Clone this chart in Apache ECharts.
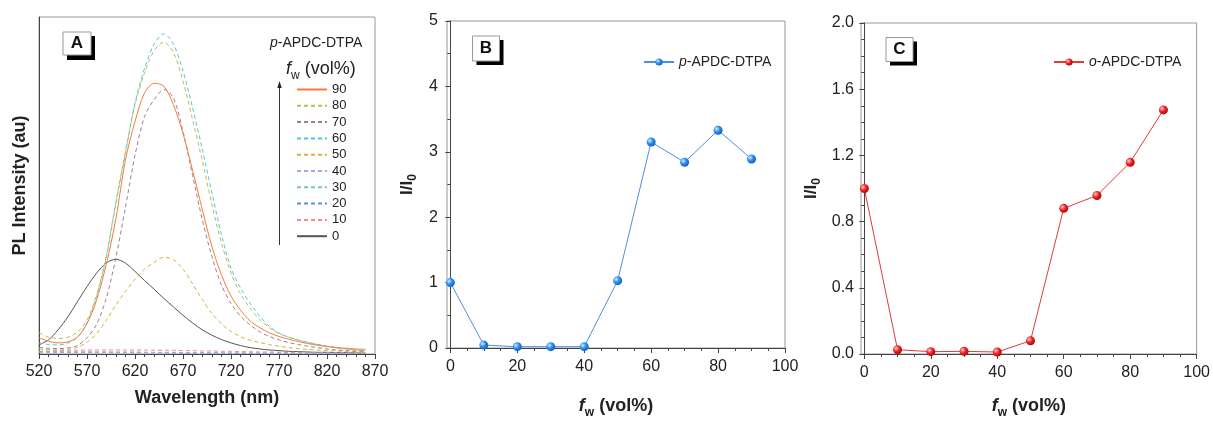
<!DOCTYPE html>
<html><head><meta charset="utf-8">
<script src="https://cdn.jsdelivr.net/npm/echarts@6/dist/echarts.min.js"></script>
<style>html,body{margin:0;padding:0;background:#fff}#c{width:1213px;height:424px}</style>
</head><body><div id="c"></div>
<script>
// ---------- Panel A: PL spectra ----------
const wavelengths = [520,530,540,550,560,570,580,590,600,610,620,630,640,650,660,670,680,690,700,710,720,730,740,750,760,770,780,790,800,810,820,830,840,850,860];
const pl90 = [48,38,33,36,50,90,160,265,400,575,690,775,803,795,740,655,545,430,320,235,172,130,98,78,63,52,44,37,31,26,22,19,17,15,14];
const pl80 = [63,50,46,50,65,100,175,290,450,600,740,835,900,925,895,810,695,575,445,330,240,178,135,102,78,61,50,41,34,28,23,18,15,12,10];
const pl70 = [20,17,16,18,25,48,88,165,285,435,590,705,755,785,760,660,530,400,290,205,150,112,86,66,52,42,34,28,23,19,15,12,10,9,8];
const pl60 = [33,28,27,32,50,92,170,285,445,595,745,848,920,950,920,840,730,610,480,355,255,195,150,112,82,62,50,42,35,29,23,19,15,12,10];
const pl50 = [15,13,12,14,20,35,60,100,145,185,222,252,272,287,280,252,208,162,120,90,67,51,41,34,28,23,19,16,14,12,10,9,8,7,6];
const pl40 = [5,5,6,6,6,6,6,6,6,6,6,5,5,5,5,4,4,4,4,3,3,3,3,3,2,2,2,2,2,2,2,2,2,2,2];
const pl30 = [8,7,7,6,6,6,6,5,5,5,5,5,4,4,4,4,4,3,3,3,3,3,3,2,2,2,2,2,2,2,2,2,2,2,2];
const pl20 = [6,6,5,5,5,5,5,5,4,4,4,4,4,4,3,3,3,3,3,3,2,2,2,2,2,2,2,2,2,2,2,2,1,1,1];
const pl10 = [8,9,10,11,11,12,12,12,12,12,12,12,11,11,11,10,10,9,9,8,8,7,7,6,6,5,5,5,4,4,4,3,3,3,3];
const pl0  = [27,42,72,110,155,200,240,270,281,270,245,218,192,165,140,115,92,72,56,43,33,25,19,15,12,10,8,7,6,5,5,4,4,3,3];
const seriesNamesA = ['90','80','70','60','50','40','30','20','10','0'];
const wavelengthTicks = [520,570,620,670,720,770,820,870];
const wavelengthMinor = [530,540,550,560,580,590,600,610,630,640,650,660,680,690,700,710,730,740,750,760,780,790,800,810,830,840,850,860];

// ---------- Panels B and C ----------
const fw = [0,10,20,30,40,50,60,70,80,90];
const ratioP = [1.00,0.045,0.02,0.02,0.02,1.03,3.15,2.84,3.33,2.89];
const ratioO = [1.00,0.026,0.014,0.016,0.012,0.08,0.88,0.958,1.158,1.475];
const fwTicks = [0,20,40,60,80,100];
const fwMinor = [5,10,15,25,30,35,45,50,55,65,70,75,85,90,95];

const FONT = 'Liberation Sans, Arial, sans-serif';
const pairs = (xs, ys) => xs.map((x, i) => [x, ys[i]]);

const curvesA = [
  {name:'90', data:pl90, color:'#f47c3c', type:'solid'},
  {name:'80', data:pl80, color:'#bcbc55', type:[4,3]},
  {name:'70', data:pl70, color:'#9c7f95', type:[4,3]},
  {name:'60', data:pl60, color:'#4cc9d9', type:[4,3]},
  {name:'50', data:pl50, color:'#d8b040', type:[4,3]},
  {name:'40', data:pl40, color:'#b6a0e4', type:[4,3]},
  {name:'30', data:pl30, color:'#7cc7aa', type:[4,3]},
  {name:'20', data:pl20, color:'#5d8fdb', type:[4,3]},
  {name:'10', data:pl10, color:'#f08c8c', type:[4,3]},
  {name:'0',  data:pl0,  color:'#555555', type:'solid'}
];

const blueBall = {type:'radial', x:0.35, y:0.35, r:0.75, colorStops:[{offset:0,color:'#d8ecff'},{offset:0.45,color:'#2b8ef0'},{offset:1,color:'#0b56b8'}]};
const redBall = {type:'radial', x:0.35, y:0.35, r:0.75, colorStops:[{offset:0,color:'#ffd6d6'},{offset:0.45,color:'#f02424'},{offset:1,color:'#a30000'}]};

const labelStyle = {fontSize:16, color:'#222', fontFamily:FONT};
const nameRichFw = {
  i:{fontSize:18, fontWeight:'bold', fontStyle:'italic', fontFamily:FONT, color:'#222', lineHeight:26},
  s:{fontSize:12, fontWeight:'bold', fontFamily:FONT, color:'#222', lineHeight:12, verticalAlign:'bottom'},
  b:{fontSize:18, fontWeight:'bold', fontFamily:FONT, color:'#222', lineHeight:26}
};
const nameRichI = {
  b:{fontSize:17, fontWeight:'bold', fontFamily:FONT, color:'#222', lineHeight:24},
  s:{fontSize:12, fontWeight:'bold', fontFamily:FONT, color:'#222', lineHeight:12, verticalAlign:'bottom'}
};

function majorX(grid, min, max, ticks, name, nameGap, rich, margin) {
  return {
    type:'value', gridIndex:grid, min:min, max:max, position:'bottom',
    name:name, nameLocation:'middle', nameGap:nameGap,
    nameTextStyle: rich ? {rich:rich} : {fontSize:18, fontWeight:'bold', color:'#222', fontFamily:FONT},
    axisLine:{show:true, onZero:false, lineStyle:{color:'#444', width:1}},
    axisTick:{show:true, inside:false, length:5, customValues:ticks, lineStyle:{color:'#444'}},
    axisLabel:{show:true, margin:margin, customValues:ticks, ...labelStyle},
    splitLine:{show:false}
  };
}
function minorX(grid, min, max, ticks) {
  return {
    type:'value', gridIndex:grid, min:min, max:max, position:'bottom',
    axisLine:{show:false}, axisLabel:{show:false}, splitLine:{show:false},
    axisTick:{show:true, inside:false, length:3, customValues:ticks, lineStyle:{color:'#444'}}
  };
}

const option = {
  animation:false,
  backgroundColor:'#fff',
  grid:[
    {left:39, top:17, width:336, height:337, show:true, borderColor:'#999', borderWidth:1},
    {left:447, top:21, width:338, height:336, show:true, borderColor:'#999', borderWidth:1},
    {left:861, top:23, width:337, height:334, show:true, borderColor:'#999', borderWidth:1}
  ],
  xAxis:[
    majorX(0, 520, 870, wavelengthTicks, 'Wavelength (nm)', 35, null, 10),
    minorX(0, 520, 870, wavelengthMinor),
    majorX(1, -1, 100, fwTicks, '{i|f}{s|w}{b| (vol%)}', 45, nameRichFw, 11),
    minorX(1, -1, 100, fwMinor),
    majorX(2, -1, 100, fwTicks, '{i|f}{s|w}{b| (vol%)}', 39, nameRichFw, 11),
    minorX(2, -1, 100, fwMinor)
  ],
  yAxis:[
    {type:'value', gridIndex:0, min:0, max:1000,
     name:'PL Intensity (au)', nameLocation:'middle', nameGap:10,
     nameTextStyle:{fontSize:18, fontWeight:'bold', color:'#222', fontFamily:FONT},
     axisLine:{show:true, lineStyle:{color:'#444'}}, axisTick:{show:false}, axisLabel:{show:false}, splitLine:{show:false}},
    {type:'value', gridIndex:1, min:0, max:5, interval:1,
     name:'{b|I/I}{s|0}', nameLocation:'middle', nameGap:28, nameTextStyle:{rich:nameRichI},
     axisLine:{show:true, lineStyle:{color:'#444'}},
     axisTick:{show:true, length:5, lineStyle:{color:'#444'}},
     minorTick:{show:true, splitNumber:2, length:3, lineStyle:{color:'#444'}},
     axisLabel:{margin:9, ...labelStyle}, splitLine:{show:false}},
    {type:'value', gridIndex:2, min:0, max:2, interval:0.4,
     name:'{b|I/I}{s|0}', nameLocation:'middle', nameGap:38, nameTextStyle:{rich:nameRichI},
     axisLine:{show:true, lineStyle:{color:'#444'}},
     axisTick:{show:true, length:5, lineStyle:{color:'#444'}},
     minorTick:{show:true, splitNumber:4, length:3, lineStyle:{color:'#444'}},
     axisLabel:{margin:7, formatter:v => v.toFixed(1), ...labelStyle}, splitLine:{show:false}}
  ],
  legend:[
    {data:seriesNamesA, orient:'vertical', left:296, top:83, padding:0, itemWidth:30, itemHeight:10, itemGap:3.3,
     selectedMode:false, itemStyle:{opacity:0},
     textStyle:{fontSize:13, lineHeight:13, color:'#222', fontFamily:FONT}},
    {data:['p-APDC-DTPA'], left:643, top:55, padding:0, itemWidth:30, itemHeight:9, selectedMode:false,
     formatter:'{i|p}{n|-APDC-DTPA}',
     textStyle:{rich:{i:{fontSize:14, fontStyle:'italic', color:'#222', fontFamily:FONT}, n:{fontSize:14, color:'#222', fontFamily:FONT}}}},
    {data:['o-APDC-DTPA'], left:1053, top:55, padding:0, itemWidth:30, itemHeight:9, selectedMode:false,
     formatter:'{i|o}{n|-APDC-DTPA}',
     textStyle:{rich:{i:{fontSize:14, fontStyle:'italic', color:'#222', fontFamily:FONT}, n:{fontSize:14, color:'#222', fontFamily:FONT}}}}
  ],
  series:[
    ...curvesA.slice().reverse().map(c => ({
      name:c.name, type:'line', xAxisIndex:0, yAxisIndex:0, data:pairs(wavelengths, c.data),
      symbol:'none', smooth:0.3, color:c.color,
      lineStyle:{color:c.color, width:1, type:c.type}, z:3
    })),
    {name:'p-APDC-DTPA', type:'line', xAxisIndex:2, yAxisIndex:1, data:pairs(fw, ratioP),
     symbol:'circle', symbolSize:9, color:'#2b8ef0', lineStyle:{color:'#4c8fdc', width:1},
     itemStyle:{color:blueBall}},
    {name:'o-APDC-DTPA', type:'line', xAxisIndex:4, yAxisIndex:2, data:pairs(fw, ratioO),
     symbol:'circle', symbolSize:9, color:'#f02424', lineStyle:{color:'#e03a3a', width:1},
     itemStyle:{color:redBall}}
  ],
  graphic:[
    // panel label boxes
    {type:'rect', shape:{x:67, y:36, width:28, height:24}, style:{fill:'#000'}, z:10},
    {type:'rect', shape:{x:63, y:32, width:28, height:23}, style:{fill:'#fff', stroke:'#999', lineWidth:1}, z:11},
    {type:'text', x:77, y:43.5, style:{text:'A', font:'bold 17px ' + FONT, fill:'#111', align:'center', verticalAlign:'middle'}, z:12},
    {type:'rect', shape:{x:476.5, y:40, width:27, height:25}, style:{fill:'#000'}, z:10},
    {type:'rect', shape:{x:472.5, y:36, width:27, height:25}, style:{fill:'#fff', stroke:'#999', lineWidth:1}, z:11},
    {type:'text', x:486, y:48.5, style:{text:'B', font:'bold 17px ' + FONT, fill:'#111', align:'center', verticalAlign:'middle'}, z:12},
    {type:'rect', shape:{x:890, y:41.5, width:27, height:24}, style:{fill:'#000'}, z:10},
    {type:'rect', shape:{x:886, y:37.5, width:27, height:24}, style:{fill:'#fff', stroke:'#999', lineWidth:1}, z:11},
    {type:'text', x:899.5, y:49.5, style:{text:'C', font:'bold 17px ' + FONT, fill:'#111', align:'center', verticalAlign:'middle'}, z:12},
    // panel A legend header
    {type:'text', left:270, top:36, z:12, style:{text:'{i|p}{n|-APDC-DTPA}',
      rich:{i:{fontSize:14, fontStyle:'italic', fontFamily:FONT, fill:'#222'}, n:{fontSize:14, fontFamily:FONT, fill:'#222'}}}},
    {type:'text', left:286, top:60, z:12, style:{text:'{i|f}{s|w}{n| (vol%)}',
      rich:{i:{fontSize:18, fontStyle:'italic', fontFamily:FONT, fill:'#222', lineHeight:26},
            s:{fontSize:12, fontFamily:FONT, fill:'#222', lineHeight:12, verticalAlign:'bottom'},
            n:{fontSize:18, fontFamily:FONT, fill:'#222', lineHeight:26}}}},
    // arrow
    {type:'line', shape:{x1:279.5, y1:245, x2:279.5, y2:86}, style:{stroke:'#333', lineWidth:1}, z:12},
    {type:'polygon', shape:{points:[[279.5,81],[277.3,88],[281.7,88]]}, style:{fill:'#222'}, z:12}
  ]
};

const chart = echarts.init(document.getElementById('c'), null, {renderer:'canvas'});
chart.setOption(option);
</script>
</body></html>
